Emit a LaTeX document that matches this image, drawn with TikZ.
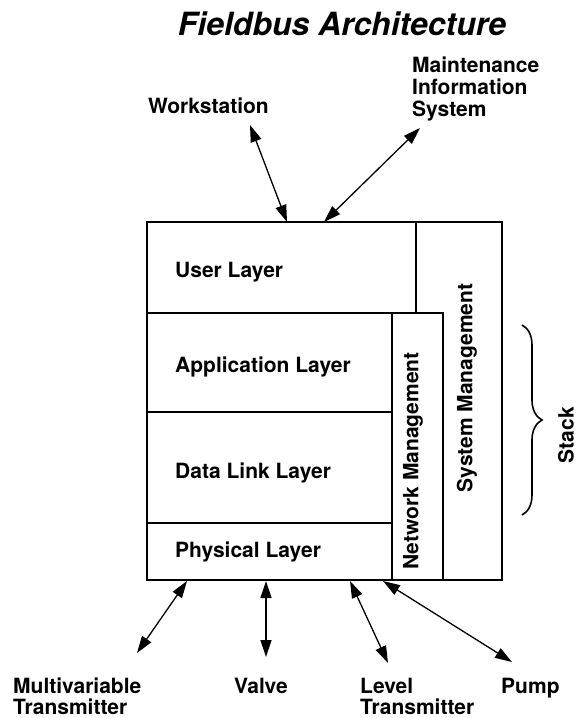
\documentclass[tikz,border=0pt]{standalone}
\usepackage{fontspec}
\setmainfont{TeX Gyre Heros}
\usetikzlibrary{positioning, arrows.meta, decorations.pathreplacing}

\begin{document}
\begin{tikzpicture}[x=1pt,y=-1pt,
  lbl/.style={font=\fontsize{21}{21}\selectfont\bfseries, inner sep=0pt},
  link/.style={{Triangle[length=17pt,width=11pt]}-{Triangle[length=17pt,width=11pt]}, line width=1.3pt},
  frame/.style={line width=1.8pt}]
\useasboundingbox (0,0) rectangle (580,718);

% Title
\node[lbl, font=\fontsize{32}{32}\selectfont\bfseries\itshape, anchor=base] (title) at (342,35) {Fieldbus Architecture};

% Layers
\draw[frame] (147,222) rectangle (416,313);
\draw[frame] (147,313) rectangle (392,412);
\draw[frame] (147,412) rectangle (392,523);
\draw[frame] (147,523) rectangle (392,580);
\node[lbl, anchor=base west] (user) at (175,277) {User Layer};
\node[lbl, anchor=base west] (app) at (175,372) {Application Layer};
\node[lbl, anchor=base west] (dll) at (175,478) {Data Link Layer};
\node[lbl, anchor=base west] (phy) at (175,557) {Physical Layer};

% Management columns
\draw[frame] (392,313) rectangle (443,580);
\draw[frame] (416,222) -- (502,222) -- (502,580) -- (443,580) -- (443,313) -- (416,313);
\node[lbl, rotate=90] (netm) at (413,461) {Network Management};
\node[lbl, rotate=90] (sysm) at (467,388) {System Management};

% Stack brace
\draw[line width=1.6pt, decorate, decoration={brace, amplitude=20pt}]
  (522,325) -- (522,515);
\node[lbl, rotate=90] (stack) at (566,435) {Stack};

% Upper links
\node[lbl, anchor=base west] (ws) at (148,113) {Workstation};
\node[lbl, anchor=north west, align=left, font=\fontsize{21}{22}\selectfont\bfseries] (mis) at (412,57)
  {Maintenance\\Information\\System};
\coordinate (ws-end) at (250,125);
\coordinate (ws-in) at (287,222);
\coordinate (mis-end) at (420,128);
\coordinate (mis-in) at (324,222);

% Field devices
\node[lbl, anchor=north west, align=left] (mvt) at (13,678) {Multivariable\\Transmitter};
\node[lbl, anchor=base] (valve) at (261,693) {Valve};
\node[lbl, anchor=north west, align=left] (lvt) at (360,678) {Level\\Transmitter};
\node[lbl, anchor=base west] (pump) at (501,693) {Pump};
\coordinate (mvt-end) at (137,653);
\coordinate (mvt-in) at (187,581);
\coordinate (valve-end) at (266,657);
\coordinate (valve-in) at (266,581);
\coordinate (lvt-end) at (388,663);
\coordinate (lvt-in) at (350,581);
\coordinate (pump-end) at (512,662);
\coordinate (pump-in) at (383,581);

\foreach \dev in {ws,mis,mvt,valve,lvt,pump}{
  \draw[link] (\dev-end) -- (\dev-in);
}
\end{tikzpicture}
\end{document}
